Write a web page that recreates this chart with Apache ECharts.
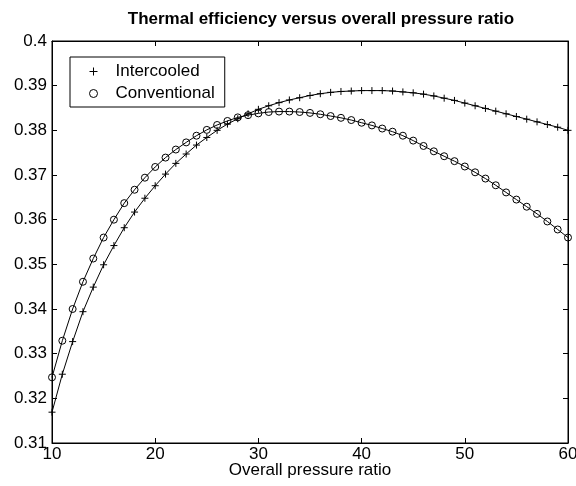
<!DOCTYPE html>
<html>
<head>
<meta charset="utf-8">
<script src="https://cdn.jsdelivr.net/npm/echarts@6/dist/echarts.min.js"></script>
<style>
html,body{margin:0;padding:0;background:#fff;}
#chart{width:576px;height:486px;}
</style>
</head>
<body>
<div id="chart"></div>
<script>
var pressureRatio = [10,11,12,13,14,15,16,17,18,19,20,21,22,23,24,25,26,27,28,29,30,31,32,33,34,35,36,37,38,39,40,41,42,43,44,45,46,47,48,49,50,51,52,53,54,55,56,57,58,59,60];
var intercooled = [0.3169,0.3254,0.3327,0.3394,0.3449,0.3499,0.3542,0.3582,0.3617,0.3648,0.3676,0.3702,0.3726,0.3747,0.3767,0.3784,0.3800,0.3814,0.3826,0.3837,0.3847,0.3855,0.3862,0.3868,0.3873,0.3878,0.3882,0.3885,0.3887,0.3888,0.3889,0.3889,0.3889,0.3888,0.3886,0.3884,0.3881,0.3877,0.3872,0.3867,0.3861,0.3855,0.3849,0.3843,0.3837,0.3831,0.3825,0.3819,0.3813,0.3807,0.3800];
var conventional = [0.3247,0.3329,0.3400,0.3461,0.3513,0.3560,0.3600,0.3637,0.3667,0.3694,0.3718,0.3739,0.3757,0.3773,0.3788,0.3801,0.3812,0.3821,0.3829,0.3834,0.3838,0.3841,0.3842,0.3842,0.3841,0.3839,0.3836,0.3832,0.3828,0.3823,0.3817,0.3811,0.3804,0.3797,0.3788,0.3777,0.3765,0.3753,0.3742,0.3731,0.3719,0.3706,0.3692,0.3677,0.3661,0.3645,0.3629,0.3613,0.3596,0.3578,0.3560];
var seriesNames = ['Intercooled','Conventional'];
var xTickLabels = ['10','20','30','40','50','60'];
var yTickLabels = ['0.31','0.32','0.33','0.34','0.35','0.36','0.37','0.38','0.39','0.4'];
var titleText = 'Thermal efficiency versus overall pressure ratio';
var xAxisName = 'Overall pressure ratio';

function pairs(xs, ys){ return xs.map(function(x,i){ return [x, ys[i]]; }); }
var FONT = 'Liberation Sans, Arial, Helvetica, sans-serif';
var plusPath = 'path://M0,5L10,5M5,0L5,10';

var chart = echarts.init(document.getElementById('chart'), null, {renderer:'canvas'});
var tickStyle = {show:true, inside:true, length:5, lineStyle:{color:'#000', width:1}};
chart.setOption({
  animation:false,
  backgroundColor:'#fff',
  title:{
    text:titleText, left:316, top:6, textAlign:'center',
    textStyle:{fontFamily:FONT, fontSize:17, fontWeight:'bold', color:'#000'}
  },
  grid:{left:52, right:8, top:41, bottom:43, containLabel:false, outerBoundsMode:'none',
    show:true, borderColor:'#000', borderWidth:1, backgroundColor:'#fff'},
  legend:{
    orient:'vertical', left:70, top:57,
    backgroundColor:'#fff', borderColor:'#000', borderWidth:1,
    padding:[6,10,5,19], itemGap:5, itemWidth:8, itemHeight:8,
    textStyle:{fontFamily:FONT, fontSize:17, color:'#000', padding:[0,0,0,13]},
    data:[
      {name:seriesNames[0], icon:plusPath, itemStyle:{color:'#000', borderColor:'#000', borderWidth:1}},
      {name:seriesNames[1], icon:'circle', itemStyle:{color:'rgba(0,0,0,0)', borderColor:'#000', borderWidth:1}}
    ]
  },
  xAxis:[{
    type:'value', min:10, max:60, interval:10, position:'bottom',
    axisLine:{show:true, lineStyle:{color:'#000', width:1}},
    axisTick:tickStyle, splitLine:{show:false},
    axisLabel:{fontFamily:FONT, fontSize:17, color:'#000', margin:3,
      formatter:function(v){ return xTickLabels[Math.round((v-10)/10)]; }},
    name:xAxisName, nameLocation:'middle', nameGap:19, nameMoveOverlap:false,
    nameTextStyle:{fontFamily:FONT, fontSize:17, color:'#000'}
  },{
    type:'value', min:10, max:60, interval:10, position:'top',
    axisLine:{show:true, lineStyle:{color:'#000', width:1}},
    axisTick:tickStyle, axisLabel:{show:false}, splitLine:{show:false}
  }],
  yAxis:[{
    type:'value', min:0.31, max:0.4, interval:0.01, position:'left',
    axisLine:{show:true, lineStyle:{color:'#000', width:1}},
    axisTick:tickStyle, splitLine:{show:false},
    axisLabel:{fontFamily:FONT, fontSize:17, color:'#000', margin:5,
      formatter:function(v){ return yTickLabels[Math.round((v-0.31)/0.01)]; }}
  },{
    type:'value', min:0.31, max:0.4, interval:0.01, position:'right',
    axisLine:{show:true, lineStyle:{color:'#000', width:1}},
    axisTick:tickStyle, axisLabel:{show:false}, splitLine:{show:false}
  }],
  series:[{
    name:seriesNames[0], type:'line', data:pairs(pressureRatio, intercooled),
    xAxisIndex:0, yAxisIndex:0,
    symbol:plusPath, symbolSize:7, showSymbol:true, showAllSymbol:true,
    lineStyle:{color:'#000', width:1},
    itemStyle:{color:'#000', borderColor:'#000', borderWidth:1},
    emphasis:{disabled:true}, z:2
  },{
    name:seriesNames[1], type:'line', data:pairs(pressureRatio, conventional),
    xAxisIndex:0, yAxisIndex:0,
    symbol:'circle', symbolSize:7, showSymbol:true, showAllSymbol:true,
    lineStyle:{color:'#000', width:1},
    itemStyle:{color:'rgba(0,0,0,0)', borderColor:'#000', borderWidth:1},
    emphasis:{disabled:true}, z:3
  }]
});
</script>
</body>
</html>
